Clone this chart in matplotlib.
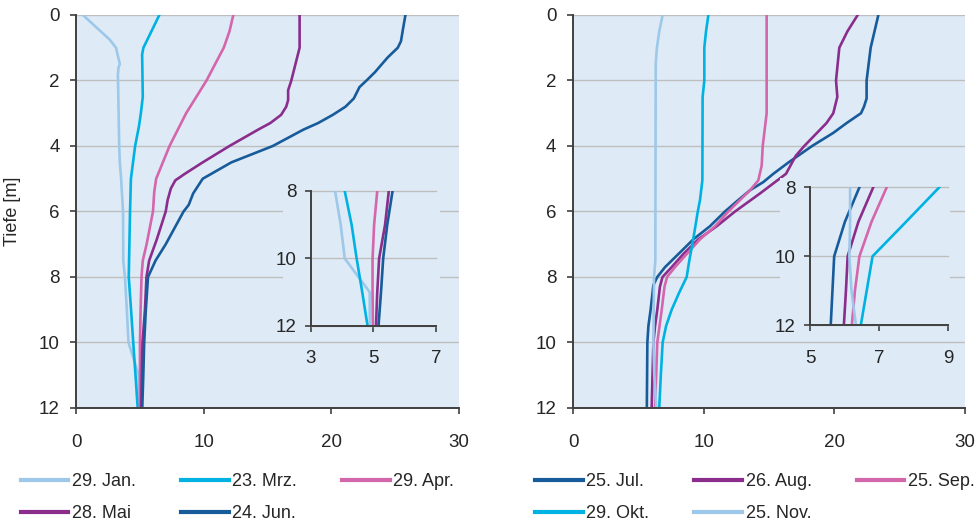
import numpy as np
import matplotlib.pyplot as plt
from matplotlib.patches import Rectangle

plt.rcParams['font.family'] = ['Liberation Sans', 'DejaVu Sans']

# Temperaturprofile: Tiefe [m] -> Temperatur [°C]
# linkes Diagramm
d_jan = [0, 0.75, 1.0, 1.5, 1.6, 1.8, 4, 4.5, 5, 6, 7.5, 8, 9, 10, 11, 12]
t_jan = [0.5, 2.6, 3.1, 3.4, 3.3, 3.25, 3.35, 3.4, 3.5, 3.65, 3.67, 3.8, 3.95, 4.08, 4.88, 4.9]

d_mrz = [0, 1.0, 1.2, 2.5, 3, 3.4, 4, 5, 6, 7, 8, 9, 10, 11, 12]
t_mrz = [6.5, 5.25, 5.15, 5.2, 5.05, 4.9, 4.6, 4.27, 4.2, 4.15, 4.1, 4.28, 4.45, 4.63, 4.8]

d_apr = [0, 0.5, 1, 2, 3, 4, 5, 5.4, 6, 7, 7.5, 8, 9, 10, 12]
t_apr = [12.3, 12.0, 11.55, 10.2, 8.6, 7.3, 6.25, 6.1, 6.0, 5.5, 5.2, 5.1, 5.03, 4.98, 4.98]

d_mai = [0, 1, 2, 2.3, 2.6, 2.8, 3.05, 3.3, 3.5, 4, 4.5, 4.85, 5.05, 5.3, 5.65, 6, 6.85, 7.5, 8, 9, 10, 11, 12]
t_mai = [17.5, 17.5, 16.85, 16.6, 16.6, 16.45, 16.05, 15.2, 14.25, 12.0, 9.9, 8.5, 7.75, 7.4, 7.15, 7.0, 6.3, 5.7, 5.49, 5.37, 5.18, 5.12, 5.08]

d_jun = [0, 0.45, 0.8, 1, 1.3, 1.75, 2, 2.2, 2.55, 2.8, 3.05, 3.3, 3.5, 4, 4.5, 5, 5.45, 5.8, 6, 7, 7.5, 8, 9, 10, 11, 12]
t_jun = [25.8, 25.6, 25.45, 25.2, 24.4, 23.4, 22.75, 22.2, 21.75, 21.1, 20.1, 18.95, 17.8, 15.4, 12.15, 9.9, 9.15, 8.8, 8.4, 7.0, 6.2, 5.61, 5.44, 5.31, 5.24, 5.16]

# rechtes Diagramm
d_jul = [0, 1.0, 2.0, 2.55, 2.8, 3.0, 3.3, 3.6, 4.0, 4.5, 4.85, 5.1, 5.35, 5.65, 6.0, 6.45, 6.85, 7.45, 7.7, 8.0, 8.25, 9, 9.5, 10, 12]
t_jul = [23.37, 22.78, 22.47, 22.47, 22.27, 22.04, 20.94, 19.92, 18.3, 16.5, 15.33, 14.57, 13.55, 12.65, 11.63, 10.48, 9.21, 7.68, 7.04, 6.45, 6.15, 5.94, 5.77, 5.69, 5.65]

d_aug = [0, 0.5, 1.0, 2.0, 2.5, 3.0, 3.3, 4.0, 4.3, 4.85, 5.45, 6.0, 6.45, 6.85, 7.3, 7.7, 8.0, 8.3, 9, 9.5, 10, 12]
t_aug = [21.79, 21.0, 20.38, 20.13, 20.23, 19.92, 19.4, 17.7, 17.05, 16.3, 14.31, 12.4, 11.0, 9.59, 8.44, 7.55, 6.85, 6.65, 6.45, 6.28, 6.15, 6.02]

d_sep = [0, 3.0, 4.0, 4.6, 5.05, 5.35, 5.65, 6.0, 6.45, 6.85, 7.3, 7.7, 8.0, 8.3, 9, 10, 12]
t_sep = [14.82, 14.82, 14.52, 14.44, 14.18, 13.55, 12.78, 11.89, 10.87, 9.72, 8.7, 7.8, 7.2, 7.0, 6.79, 6.45, 6.28]

d_okt = [0, 0.5, 1.0, 2.0, 2.5, 5.05, 5.65, 6.0, 6.85, 7.5, 8.0, 8.5, 9.0, 9.5, 10, 11, 12]
t_okt = [10.36, 10.18, 10.05, 10.05, 9.92, 9.9, 9.72, 9.55, 9.2, 8.9, 8.7, 8.1, 7.55, 7.12, 6.86, 6.72, 6.6]

d_nov = [0, 0.5, 1.0, 1.5, 7.5, 8.0, 10, 11, 12]
t_nov = [6.86, 6.6, 6.42, 6.33, 6.3, 6.2, 6.15, 6.22, 6.38]

# Ausschnitte 8-12 m
d_inset = [8, 9, 10, 11, 12]
i_jan = [3.77, 3.95, 4.08, 4.88, 4.88]
i_mrz = [4.08, 4.3, 4.46, 4.64, 4.81]
i_apr = [5.12, 5.02, 4.97, 4.97, 4.98]
i_mai = [5.49, 5.37, 5.18, 5.12, 5.08]
i_jun = [5.61, 5.44, 5.31, 5.24, 5.16]
i_jul = [6.43, 6.01, 5.7, 5.65, 5.6]
i_aug = [6.83, 6.4, 6.09, 6.04, 5.98]
i_sep = [7.22, 6.78, 6.43, 6.3, 6.21]
i_okt = [8.74, 7.78, 6.81, 6.64, 6.47]
i_nov = [6.16, 6.16, 6.14, 6.2, 6.33]

# Farben
c_light = '#9DC8EA'
c_cyan = '#00B2E2'
c_pink = '#D466AC'
c_purple = '#8B2D8C'
c_dark = '#175B9A'
bg = '#DEEBF7'
gridc = '#BEBEBE'
axc = '#404040'
txt = '#262626'
fs = 13.5


def style(ax, xticks, yticks, xlim, ylim, ypad=7.5, xpad=14):
    ax.set_facecolor(bg)
    ax.set_xlim(xlim)
    ax.set_ylim(ylim)
    ax.set_xticks(xticks)
    ax.set_yticks(yticks)
    for s in ['top', 'right']:
        ax.spines[s].set_visible(False)
    for s in ['left', 'bottom']:
        ax.spines[s].set_color(axc)
        ax.spines[s].set_linewidth(1.4)
    ax.tick_params(axis='both', direction='out', length=4.5, width=1.2,
                   color=axc, labelsize=fs, labelcolor=txt)
    ax.tick_params(axis='y', pad=ypad)
    ax.tick_params(axis='x', pad=xpad)
    ax.set_axisbelow(True)
    ax.yaxis.grid(True, color=gridc, linewidth=1.0)
    ax.xaxis.grid(False)


fig = plt.figure(figsize=(9.78, 5.24), dpi=100)

ax1 = fig.add_axes([0.0782, 0.2214, 0.3911, 0.75])
ax2 = fig.add_axes([0.5859, 0.2214, 0.4008, 0.75])

lw = 1.9
ax1.plot(t_jan, d_jan, color=c_light, lw=lw, label='29. Jan.')
ax1.plot(t_mrz, d_mrz, color=c_cyan, lw=lw, label='23. Mrz.')
ax1.plot(t_apr, d_apr, color=c_pink, lw=lw, label='29. Apr.')
ax1.plot(t_mai, d_mai, color=c_purple, lw=lw, label='28. Mai')
ax1.plot(t_jun, d_jun, color=c_dark, lw=lw, label='24. Jun.')

ax2.plot(t_jul, d_jul, color=c_dark, lw=lw, label='25. Jul.')
ax2.plot(t_aug, d_aug, color=c_purple, lw=lw, label='26. Aug.')
ax2.plot(t_sep, d_sep, color=c_pink, lw=lw, label='25. Sep.')
ax2.plot(t_okt, d_okt, color=c_cyan, lw=lw, label='29. Okt.')
ax2.plot(t_nov, d_nov, color=c_light, lw=lw, label='25. Nov.')

for ax in (ax1, ax2):
    style(ax, [0, 10, 20, 30], [0, 2, 4, 6, 8, 10, 12], (0, 30), (12, 0))

ax1.set_ylabel('Tiefe [m]', fontsize=13, color=txt)
ax1.yaxis.set_label_coords(-0.145, 0.5)

# Hintergrund hinter den Ausschnitten
ax1.add_patch(Rectangle((0.2894, 0.355), 0.1605, 0.305, transform=fig.transFigure,
                        facecolor=bg, edgecolor='none', zorder=3, clip_on=False))
ax2.add_patch(Rectangle((0.7975, 0.355), 0.1739, 0.305, transform=fig.transFigure,
                        facecolor=bg, edgecolor='none', zorder=3, clip_on=False))

in1 = fig.add_axes([0.318, 0.3779, 0.1278, 0.2576])
in2 = fig.add_axes([0.8282, 0.3792, 0.1414, 0.2634])

ilw = 1.9
in1.plot(i_jan, d_inset, color=c_light, lw=ilw)
in1.plot(i_mrz, d_inset, color=c_cyan, lw=ilw)
in1.plot(i_apr, d_inset, color=c_pink, lw=ilw)
in1.plot(i_mai, d_inset, color=c_purple, lw=ilw)
in1.plot(i_jun, d_inset, color=c_dark, lw=ilw)

in2.plot(i_jul, d_inset, color=c_dark, lw=ilw)
in2.plot(i_aug, d_inset, color=c_purple, lw=ilw)
in2.plot(i_sep, d_inset, color=c_pink, lw=ilw)
in2.plot(i_okt, d_inset, color=c_cyan, lw=ilw)
in2.plot(i_nov, d_inset, color=c_light, lw=ilw)

style(in1, [3, 5, 7], [8, 10, 12], (3, 7), (12, 8), ypad=6, xpad=13)
style(in2, [5, 7, 9], [8, 10, 12], (5, 9), (12, 8), ypad=6, xpad=13)
for ax in (in1, in2):
    ax.patch.set_alpha(0)
    for line in ax.get_ygridlines():
        line.set_clip_on(False)


def legend(ax, order, x):
    h, l = ax.get_legend_handles_labels()
    leg = ax.legend([h[i] for i in order], [l[i] for i in order], ncol=3,
                    loc='upper left', bbox_to_anchor=(x, 0.097),
                    bbox_transform=fig.transFigure, frameon=False,
                    fontsize=13, handlelength=2.64, handletextpad=0.2,
                    columnspacing=2.5, labelspacing=0.82, borderpad=0,
                    borderaxespad=0)
    for t in leg.get_texts():
        t.set_color(txt)
    for ln in leg.get_lines():
        ln.set_linewidth(3)


legend(ax1, [0, 3, 1, 4, 2], 0.0212)
legend(ax2, [0, 3, 1, 4, 2], 0.547)

fig.savefig('out.png', dpi=100)
